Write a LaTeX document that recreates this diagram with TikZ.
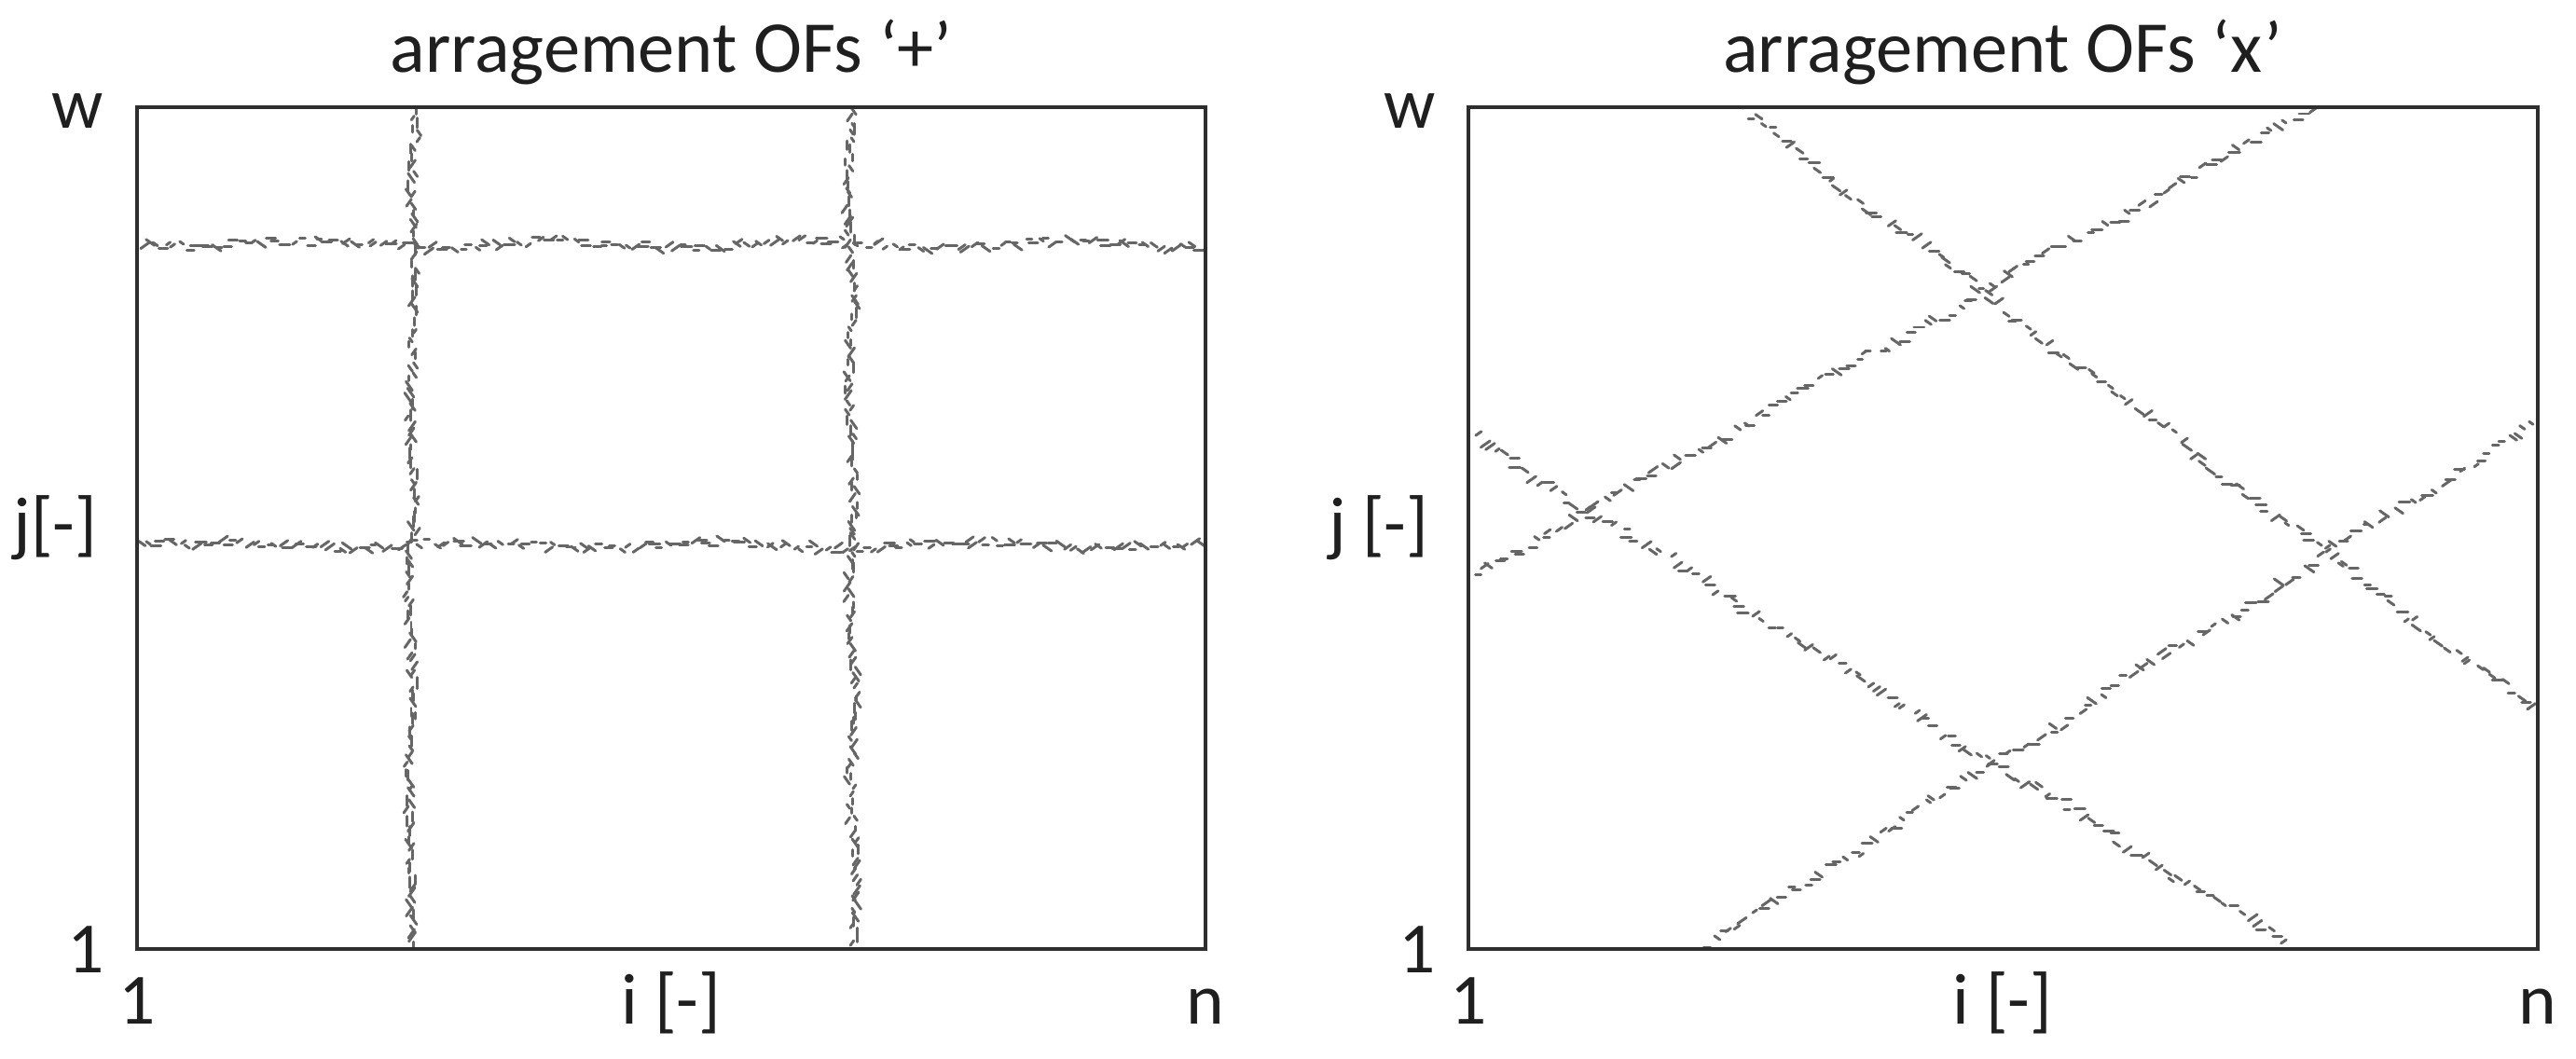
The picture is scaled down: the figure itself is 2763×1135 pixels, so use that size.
\documentclass[tikz,border=0pt]{standalone}
\usepackage{fontspec}
\setmainfont{Carlito}
\pgfmathsetseed{4711}
\newcommand\scattrack[6]{% x1 y1 x2 y2 n baseangle
  \pgfmathsetmacro\sDx{#3-#1}%
  \pgfmathsetmacro\sDy{#4-#2}%
  \pgfmathsetmacro\sL{veclen(\sDx,\sDy)}%
  \pgfmathsetmacro\sUx{\sDx/\sL}%
  \pgfmathsetmacro\sUy{\sDy/\sL}%
  \pgfmathsetmacro\sPh{360*rnd}%
  \foreach \k in {1,...,#5}{%
    \pgfmathsetmacro\sT{(\k-0.5+0.45*rand)/#5}%
    \pgfmathsetmacro\sOff{4.5*rand+3*sin(\sT*1500+\sPh)}%
    \pgfmathsetmacro\sPx{#1+\sDx*\sT-\sUy*(\sOff)}%
    \pgfmathsetmacro\sPy{#2+\sDy*\sT+\sUx*(\sOff)}%
    \pgfmathsetmacro\sAng{#6+35*round(1.2*rand)}%
    \pgfmathsetmacro\sLen{2.5+3.5*rnd}%
    \pgfmathsetmacro\sEx{\sLen*cos(\sAng)}%
    \pgfmathsetmacro\sEy{\sLen*sin(\sAng)}%
    \draw[scatdash] ({\sPx-(\sEx)},{\sPy-(\sEy)}) -- ({\sPx+\sEx},{\sPy+\sEy});
  }%
}
\begin{document}
\begin{tikzpicture}[x=0.01cm,y=-0.01cm,
  frame/.style={draw=black!82,line width=0.95pt},
  scatdash/.style={draw=black!60,line width=0.85pt,line cap=round},
  ttl/.style={inner sep=0pt,text=black!88,font=\fontsize{22.3pt}{25pt}\selectfont},
  lbl/.style={inner sep=0pt,text=black!88,font=\fontsize{22pt}{25pt}\selectfont}]
\useasboundingbox (0,0) rectangle (2763,1135);

% ---- left panel ----
\begin{scope}
  \clip (147,115) rectangle (1293,1018);
  \scattrack{444}{117}{440}{1016}{150}{90}
  \scattrack{912}{117}{916}{1016}{150}{90}
  \scattrack{149}{262}{1291}{262}{160}{0}
  \scattrack{149}{585}{1291}{585}{160}{0}
\end{scope}
\draw[frame] (147,115) rectangle (1293,1018);

\node[ttl,anchor=base] (t1) at (720,77) {arragement OFs ‘+’};
\node[lbl,anchor=base east] (w1) at (112,137) {w};
\node[lbl,anchor=east] (j1) at (105,566) {j[-]};
\node[lbl,anchor=base east] (o1) at (112,1043) {1};
\node[lbl,anchor=base] (b1) at (147,1098) {1};
\node[lbl,anchor=base] (i1) at (720,1098) {i [-]};
\node[lbl,anchor=base] (n1) at (1293,1098) {n};

% ---- right panel ----
\begin{scope}
  \clip (1575,115) rectangle (2722,1018);
  \scattrack{1866}{117}{2720}{762}{115}{0}
  \scattrack{1577}{617}{2482}{117}{110}{0}
  \scattrack{1577}{468}{2455}{1015}{110}{0}
  \scattrack{1828}{1015}{2720}{453}{110}{0}
\end{scope}
\draw[frame] (1575,115) rectangle (2722,1018);

\node[ttl,anchor=base] (t2) at (2148,77) {arragement OFs ‘x’};
\node[lbl,anchor=base east] (w2) at (1540,137) {w};
\node[lbl,anchor=east] (j2) at (1533,566) {j [-]};
\node[lbl,anchor=base east] (o2) at (1540,1043) {1};
\node[lbl,anchor=base] (b2) at (1575,1098) {1};
\node[lbl,anchor=base] (i2) at (2148,1098) {i [-]};
\node[lbl,anchor=base] (n2) at (2722,1098) {n};
\end{tikzpicture}
\end{document}
